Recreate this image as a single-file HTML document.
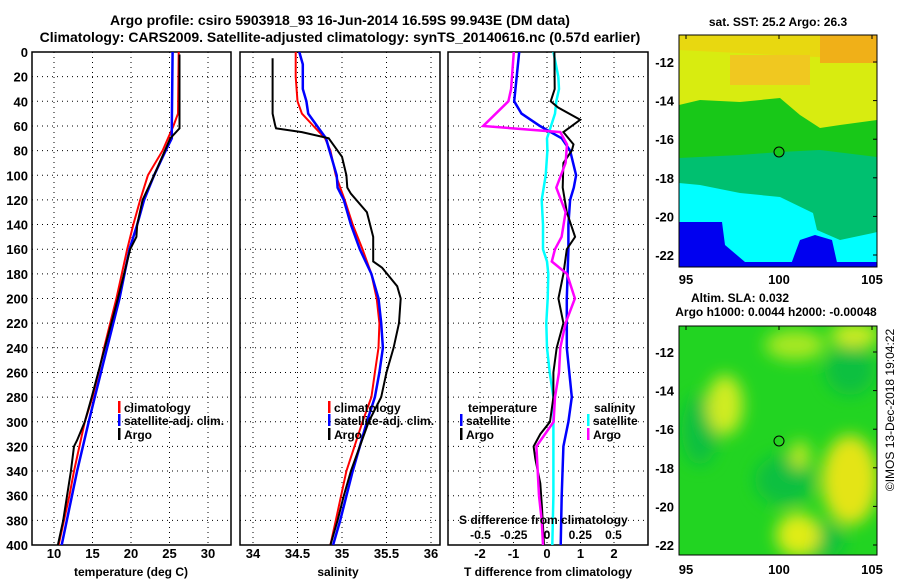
<!DOCTYPE html>
<html><head><meta charset="utf-8"><style>
html,body{margin:0;padding:0;background:#fff}
svg text{font-family:"Liberation Sans",sans-serif;font-weight:bold;fill:#000}
</style></head><body>
<svg id="s" width="900" height="580" viewBox="0 0 900 580" xmlns="http://www.w3.org/2000/svg">
<defs>
<filter id="blur" x="-40%" y="-40%" width="180%" height="180%"><feGaussianBlur stdDeviation="8"/></filter>
<clipPath id="c1"><rect x="32" y="52" width="199" height="493"/></clipPath>
<clipPath id="c2"><rect x="240" y="52" width="200" height="493"/></clipPath>
<clipPath id="c3"><rect x="448" y="52" width="200" height="493"/></clipPath>
<clipPath id="cm1"><rect x="679" y="35" width="198" height="232"/></clipPath>
<clipPath id="cm2"><rect x="679" y="326" width="198" height="229"/></clipPath>
</defs>
<text x="340" y="25" font-size="14" text-anchor="middle">Argo profile: csiro 5903918_93 16-Jun-2014 16.59S 99.943E (DM data)</text>
<text x="340" y="42" font-size="14" text-anchor="middle">Climatology: CARS2009. Satellite-adjusted climatology: synTS_20140616.nc (0.57d earlier)</text>
<g id="g1"></g>
<g id="g2"></g>
<g id="g3"></g>
<g id="m1">
<text x="778" y="26" font-size="12" text-anchor="middle">sat. SST: 25.2 Argo: 26.3</text>
<g clip-path="url(#cm1)">
<rect x="679" y="35" width="198" height="232" fill="#00c070"/>
<polygon points="679,35 877,35 877,157 820,150 780,152 740,155 679,158" fill="#18c818"/>
<polygon points="679,35 877,35 877,120 840,125 820,128 800,115 780,98 740,102 700,100 679,105" fill="#d8ec10"/>
<polygon points="679,35 877,35 877,60 679,50" fill="#e8d810"/>
<rect x="820" y="35" width="57" height="28" fill="#f0b018"/>
<rect x="730" y="55" width="80" height="30" fill="#f0c820"/>
<polygon points="679,183 700,185 740,193 780,197 813,213 817,230 840,240 873,233 877,232 877,267 679,267" fill="#00ffff"/>
<polygon points="679,222 722,222 725,245 745,262 760,267 679,267" fill="#0000f0"/>
<polygon points="790,267 800,240 815,235 832,240 838,267" fill="#0000f0"/>
<rect x="679" y="262" width="198" height="5" fill="#0000f0"/>
</g>
<rect x="679" y="35" width="198" height="232" fill="none" stroke="#000"/>
<circle cx="779" cy="152" r="5" fill="#18c818" stroke="#000"/>
</g>
<g id="m2">
<text x="740" y="302" font-size="12" text-anchor="middle">Altim. SLA: 0.032</text>
<text x="776" y="316" font-size="12" text-anchor="middle">Argo h1000: 0.0044 h2000: -0.00048</text>
<g clip-path="url(#cm2)">
<rect x="679" y="326" width="198" height="229" fill="#22d422"/>
<g filter="url(#blur)">
<ellipse cx="850" cy="370" rx="25" ry="25" fill="#10c040"/>
<ellipse cx="700" cy="430" rx="18" ry="35" fill="#10c040"/>
<ellipse cx="785" cy="480" rx="30" ry="25" fill="#10c040"/>
<ellipse cx="820" cy="540" rx="25" ry="18" fill="#10c040"/>
<ellipse cx="725" cy="405" rx="18" ry="30" fill="#d0ec20"/>
<ellipse cx="795" cy="345" rx="30" ry="15" fill="#a8e820"/>
<ellipse cx="855" cy="335" rx="25" ry="12" fill="#d0ec20"/>
<ellipse cx="850" cy="480" rx="28" ry="45" fill="#e4e418"/>
<ellipse cx="798" cy="535" rx="22" ry="22" fill="#e0ec18"/>
<ellipse cx="800" cy="455" rx="10" ry="14" fill="#c0e820"/>
</g>
</g>
<rect x="679" y="326" width="198" height="229" fill="none" stroke="#000"/>
<circle cx="779" cy="441" r="5" fill="none" stroke="#000"/>
</g>
<text transform="translate(894,410) rotate(-90)" font-size="12" style="font-weight:normal" text-anchor="middle">©IMOS 13-Dec-2018 19:04:22</text>
<script>
// ---- data ----
const tClimDepth=[0,50,60,70,80,100,120,140,160,180,200,220,240,260,280,300,320,340,360,380,400];
const tClim=[26.2,26.1,25.5,24.8,24.1,22.2,21.2,20.3,19.5,18.8,18.1,17.3,16.5,15.8,15.0,14.0,13.3,12.6,12.0,11.3,10.6];
const tSatDepth=[0,60,70,80,100,120,140,160,200,240,280,300,340,400];
const tSat=[25.4,25.3,25.3,24.5,23.0,21.7,20.8,19.8,18.5,16.9,15.3,14.5,13.0,11.0];
const tArgoDepth=[2,60,62,70,80,100,120,140,150,160,200,240,280,300,315,320,340,380,400];
const tArgo=[26.3,26.3,26.3,25.1,24.4,23.0,21.5,20.8,20.7,19.9,18.3,16.6,14.9,14.0,13.0,12.6,12.2,11.2,10.5];
const sClimDepth=[0,20,40,50,60,70,80,100,120,140,160,180,200,220,240,260,280,300,340,380,400];
const sClim=[34.48,34.48,34.5,34.55,34.68,34.81,34.87,34.93,35.03,35.12,35.23,35.33,35.39,35.42,35.41,35.37,35.33,35.23,35.05,34.93,34.87];
const sSatDepth=[0,10,30,40,50,60,70,80,100,110,120,140,160,180,200,220,240,260,280,300,340,380,400];
const sSat=[34.52,34.56,34.56,34.6,34.62,34.72,34.82,34.86,34.94,34.95,35.02,35.1,35.2,35.33,35.41,35.44,35.46,35.42,35.37,35.28,35.12,34.98,34.9];
const sArgoDepth=[5,50,60,62,65,70,75,85,100,110,115,130,150,170,175,190,200,220,240,260,280,300,320,340,360,380,400];
const sArgo=[34.22,34.22,34.25,34.26,34.55,34.85,34.9,35.0,35.05,35.06,35.1,35.28,35.35,35.35,35.45,35.62,35.66,35.64,35.58,35.5,35.44,35.3,35.2,35.1,35.02,34.95,34.87];
const dtSatDepth=[0,40,50,60,70,80,100,110,120,140,160,200,240,280,300,320,360,400];
const dtSat=[-0.83,-0.98,-0.76,-0.21,0.44,0.69,0.87,0.8,0.69,0.64,0.64,0.59,0.59,0.74,0.64,0.49,0.44,0.41];
const dtArgoDepth=[0,30,40,45,55,65,75,80,90,110,130,150,160,180,200,220,240,260,280,300,310,320,330,350,370,400];
const dtArgo=[0.22,0.23,0.11,0.33,0.99,0.49,0.79,0.74,0.49,0.47,0.59,0.84,0.59,0.49,0.34,0.49,0.29,0.19,0.19,0.09,-0.2,-0.4,-0.35,-0.2,-0.15,-0.09];
const dsSatDepth=[0,20,30,40,50,60,70,80,100,120,140,160,170,180,200,220,240,260,280,300,320,360,400];
const dsSat=[0.048,0.085,0.09,0.07,0.06,0.03,0.0,0.003,-0.01,-0.04,-0.03,-0.03,0.0,0.01,0.005,-0.005,0.0,0.02,0.048,0.048,0.048,0.048,0.04];
const dsArgoDepth=[0,30,40,60,65,75,90,110,130,150,160,170,180,200,220,240,260,280,300,310,320,340,360,380,400];
const dsArgo=[-0.25,-0.27,-0.29,-0.48,0.1,0.15,0.14,0.07,0.14,0.11,0.06,0.036,0.15,0.21,0.14,0.1,0.09,0.06,0.05,-0.015,-0.08,-0.07,-0.06,-0.04,-0.03];
const depthTicks=[0,20,40,60,80,100,120,140,160,180,200,220,240,260,280,300,320,340,360,380,400];
const tTicks=[10,15,20,25,30];
const sTicks=[34,34.5,35,35.5,36];
const dtTicks=[-2,-1,0,1,2];
const dsTicks=[-0.5,-0.25,0,0.25,0.5];
const latTicks=[-12,-14,-16,-18,-20,-22];
const lonTicks=[95,100,105];

// ---- axes ----
const Y=d=>52+d*493/400;
const XT=t=>54+(t-10)*7.7;
const XS=s=>253+(s-34)*89;
const XDT=t=>547+t*33.5;
const XDS=s=>547+s*133;
const NS='http://www.w3.org/2000/svg';
function mk(p,tag,at,txt){const e=document.createElementNS(NS,tag);for(const k in at)e.setAttribute(k,at[k]);if(txt!==undefined)e.textContent=txt;p.appendChild(e);return e;}
function frame(g,x0,x1,xs,xf,labels,ylab){
  depthTicks.forEach(d=>{const l=mk(g,'line',{x1:x0,x2:x1,y1:Y(d),y2:Y(d),stroke:'#000','stroke-dasharray':'1 4'});
    
    if(ylab){const t=mk(g,'text',{x:28,y:Y(d)+5,'font-size':13,'text-anchor':'end'},String(d));}});
  xs.forEach((v,i)=>{const x=xf(v);const l=mk(g,'line',{x1:x,x2:x,y1:52,y2:545,stroke:'#000','stroke-dasharray':'1 4'});
    
    const t=mk(g,'text',{x:x,y:558,'font-size':13,'text-anchor':'middle'},labels?labels[i]:String(v));});
  const r=mk(g,'rect',{x:x0,y:52,width:x1-x0,height:493,fill:'none',stroke:'#000','stroke-width':1.5});
  
}
function line(g,clip,ds,vs,xf,col,w,name){
  const pts=ds.map((d,i)=>xf(vs[i]).toFixed(1)+','+Y(d).toFixed(1)).join(' ');
  const p=mk(g,'polyline',{points:pts,fill:'none',stroke:col,'stroke-width':w,'clip-path':'url(#'+clip+')'});
  
}
function legend(g,x,y,col,txt){
  const r=mk(g,'rect',{x:x,y:y-11,width:2.5,height:12,fill:col});
  
  const t=mk(g,'text',{x:x+6,y:y,'font-size':12},txt);
  
}
const g1=document.getElementById('g1'),g2=document.getElementById('g2'),g3=document.getElementById('g3');
frame(g1,32,231,tTicks,XT,null,true);
line(g1,'c1',tClimDepth,tClim,XT,'#f00',2,'temp-climatology-line');
line(g1,'c1',tSatDepth,tSat,XT,'#00f',2.5,'temp-satellite-line');
line(g1,'c1',tArgoDepth,tArgo,XT,'#000',2,'temp-argo-line');
legend(g1,118,412,'#f00','climatology');legend(g1,118,425,'#00f','satellite-adj. clim.');legend(g1,118,439,'#000','Argo');
let t=mk(g1,'text',{x:131,y:576,'font-size':12,'text-anchor':'middle'},'temperature (deg C)');

frame(g2,240,440,sTicks,XS,['34','34.5','35','35.5','36'],false);
line(g2,'c2',sClimDepth,sClim,XS,'#f00',2,'sal-climatology-line');
line(g2,'c2',sSatDepth,sSat,XS,'#00f',2.5,'sal-satellite-line');
line(g2,'c2',sArgoDepth,sArgo,XS,'#000',2,'sal-argo-line');
legend(g2,328,412,'#f00','climatology');legend(g2,328,425,'#00f','satellite-adj. clim.');legend(g2,328,439,'#000','Argo');
t=mk(g2,'text',{x:338,y:576,'font-size':12,'text-anchor':'middle'},'salinity');

frame(g3,448,648,dtTicks,XDT,null,false);
line(g3,'c3',dsSatDepth,dsSat,XDS,'#0ff',2.5,'sdiff-satellite-line');
line(g3,'c3',dtSatDepth,dtSat,XDT,'#00f',2.5,'tdiff-satellite-line');
line(g3,'c3',dtArgoDepth,dtArgo,XDT,'#000',2,'tdiff-argo-line');
line(g3,'c3',dsArgoDepth,dsArgo,XDS,'#f0f',2.5,'sdiff-argo-line');
t=mk(g3,'text',{x:468,y:412,'font-size':12},'temperature');
t=mk(g3,'text',{x:594,y:412,'font-size':12},'salinity');
legend(g3,460,425,'#00f','satellite');legend(g3,460,439,'#000','Argo');
legend(g3,587,425,'#0ff','satellite');legend(g3,587,439,'#f0f','Argo');
t=mk(g3,'text',{x:459,y:524,'font-size':12},'S difference from climatology');
dsTicks.forEach(v=>{const x=XDS(v);const e=mk(g3,'text',{x:x,y:539,'font-size':12,'text-anchor':'middle'},String(v));});
t=mk(g3,'text',{x:548,y:576,'font-size':12,'text-anchor':'middle'},'T difference from climatology');

// map axes
function mapAxes(gid,latY0,dy,lonY,top,bot){
  const g=document.getElementById(gid);
  latTicks.forEach((v,i)=>{const y=latY0+i*dy;const e=mk(g,'text',{x:674,y:y+5,'font-size':13,'text-anchor':'end'},String(v));
    mk(g,'line',{x1:873,x2:877,y1:y,y2:y,stroke:'#000'});});
  lonTicks.forEach(v=>{const x=686+(v-95)*18.6;const e=mk(g,'text',{x:x,y:lonY,'font-size':13,'text-anchor':'middle'},String(v));
    mk(g,'line',{x1:x,x2:x,y1:top,y2:top+4,stroke:'#000'});});
}
mapAxes('m1',62,38.6,284,35,267);mapAxes('m2',352,38.6,574,326,555);
</script>
</svg>
</body></html>
